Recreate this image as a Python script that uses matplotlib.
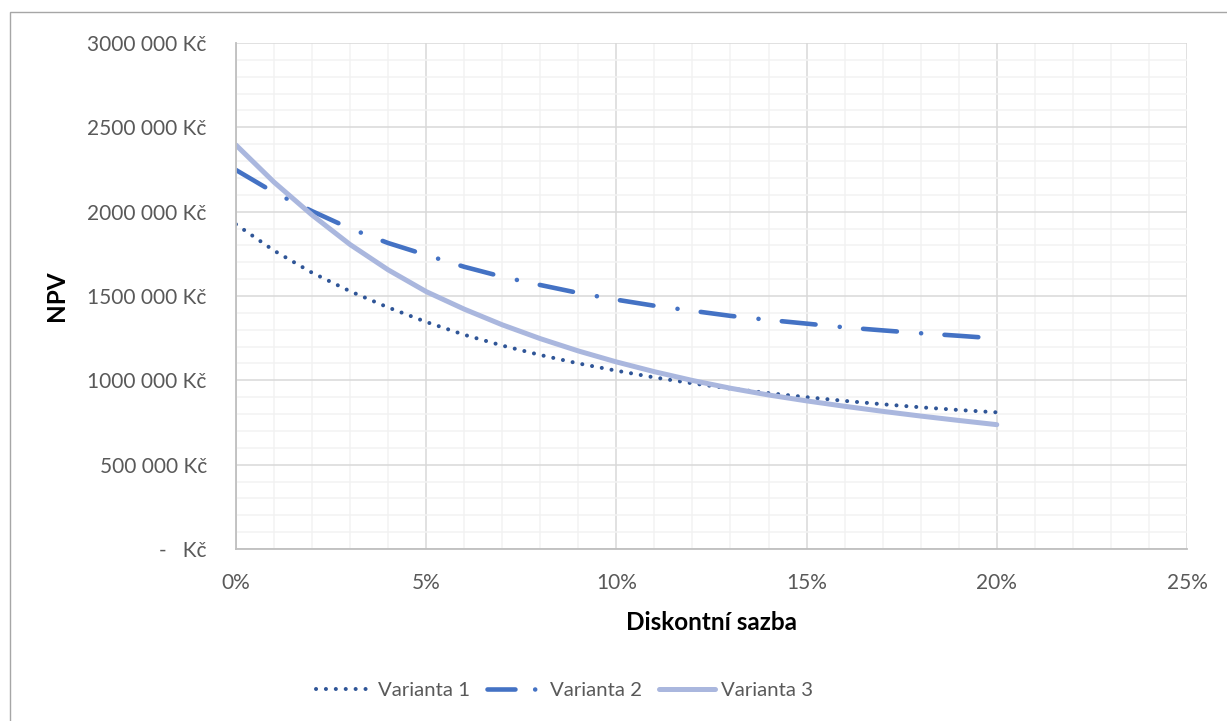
import matplotlib.pyplot as plt
from matplotlib.lines import Line2D
from matplotlib.patches import Rectangle
from matplotlib.ticker import MultipleLocator, FuncFormatter

# discount rates (%) and NPV values
rates = [0, 1, 2, 3, 4, 5, 6, 7, 8, 9, 10, 11, 12, 13, 14, 15, 16, 17, 18, 19, 20]
varianta1 = [1925000, 1769000, 1638000, 1528000, 1432000, 1346000, 1270000, 1206000,
             1150000, 1100000, 1057000, 1017000, 982000, 951000, 924000, 900000,
             878000, 858000, 840000, 824000, 810000]
varianta2 = [2247000, 2114000, 2003000, 1900000, 1814000, 1743000, 1673000, 1614000,
             1565000, 1518000, 1478000, 1442000, 1412000, 1382000, 1358000, 1336000,
             1314000, 1296000, 1279000, 1264000, 1248000]
varianta3 = [2395000, 2175000, 1980000, 1805000, 1655000, 1526000, 1422000, 1329000,
             1247000, 1174000, 1109000, 1051000, 999000, 953000, 913000, 878000,
             846000, 816000, 788000, 762000, 737000]
labels = ["Varianta 1", "Varianta 2", "Varianta 3"]

plt.rcParams['font.family'] = ['Lato', 'DejaVu Sans']

fig = plt.figure(figsize=(12.27, 7.21), dpi=100)
ax = fig.add_axes([0.1923, 0.2386, 0.7751, 0.7018])

x = [r / 100 for r in rates]
l1, = ax.plot(x, varianta1, color='#2F5597', lw=2.9,
              dash_capstyle='round', solid_capstyle='round')
l1.set_dashes([0.01, 2.45])
l2, = ax.plot(x, varianta2, color='#4472C4', lw=3.3,
              dash_capstyle='round', solid_capstyle='round')
l2.set_dashes([7.4, 5.3, 0.01, 5.1])
ax.plot(x, varianta3, color='#AAB7DE', lw=3.6,
        solid_capstyle='round', solid_joinstyle='round')

ax.set_xlim(0, 0.25)
ax.set_ylim(0, 3000000)
ax.xaxis.set_major_locator(MultipleLocator(0.05))
ax.xaxis.set_minor_locator(MultipleLocator(0.01))
ax.yaxis.set_major_locator(MultipleLocator(500000))
ax.yaxis.set_minor_locator(MultipleLocator(100000))


def kc(v, pos):
    if v == 0:
        return "-   Kč"
    return f"{int(v // 1000)} 000 Kč"


ax.xaxis.set_major_formatter(FuncFormatter(lambda v, p: f"{v * 100:.0f}%"))
ax.yaxis.set_major_formatter(FuncFormatter(kc))

ax.grid(which='major', color='#D9D9D9', lw=1.1)
ax.grid(which='minor', color='#F2F2F2', lw=1.1)
ax.set_axisbelow(True)
for s in ['top', 'right']:
    ax.spines[s].set_visible(False)
for s in ['left', 'bottom']:
    ax.spines[s].set_color('#BFBFBF')
    ax.spines[s].set_linewidth(1.3)
ax.tick_params(which='both', length=0, colors='#595959', labelsize=15)
ax.tick_params(axis='y', pad=21)
ax.tick_params(axis='x', pad=17)

ax.set_xlabel("Diskontní sazba", fontsize=17.5, fontweight='bold')
ax.set_ylabel("NPV", fontsize=17.5, fontweight='bold')
ax.xaxis.set_label_coords(0.5, -0.122)
ax.yaxis.set_label_coords(-0.1767, 0.5)

# legend handles (shorter dash pattern for the dash-dot sample)
h1 = Line2D([], [], color='#2F5597', lw=2.9, dashes=[0.01, 2.45],
            dash_capstyle='round')
h2 = Line2D([], [], color='#4472C4', lw=3.3, dashes=[6.1, 4.3, 0.01, 4.0],
            dash_capstyle='round')
h3 = Line2D([], [], color='#AAB7DE', lw=3.6, solid_capstyle='round')
fig.legend([h1, h2, h3], labels, loc='center', bbox_to_anchor=(0.46, 0.042),
           ncol=3, frameon=False, fontsize=14.7, handlelength=2.75,
           columnspacing=0.85, handletextpad=0.3, labelcolor='#595959')

fig.patches.append(Rectangle((9.5 / 1227, -0.05), 1.1, 1 - 12.5 / 721 + 0.05,
                             transform=fig.transFigure, fill=False,
                             edgecolor='#A6A6A6', lw=1.0))

fig.savefig('out.png', dpi=100)
